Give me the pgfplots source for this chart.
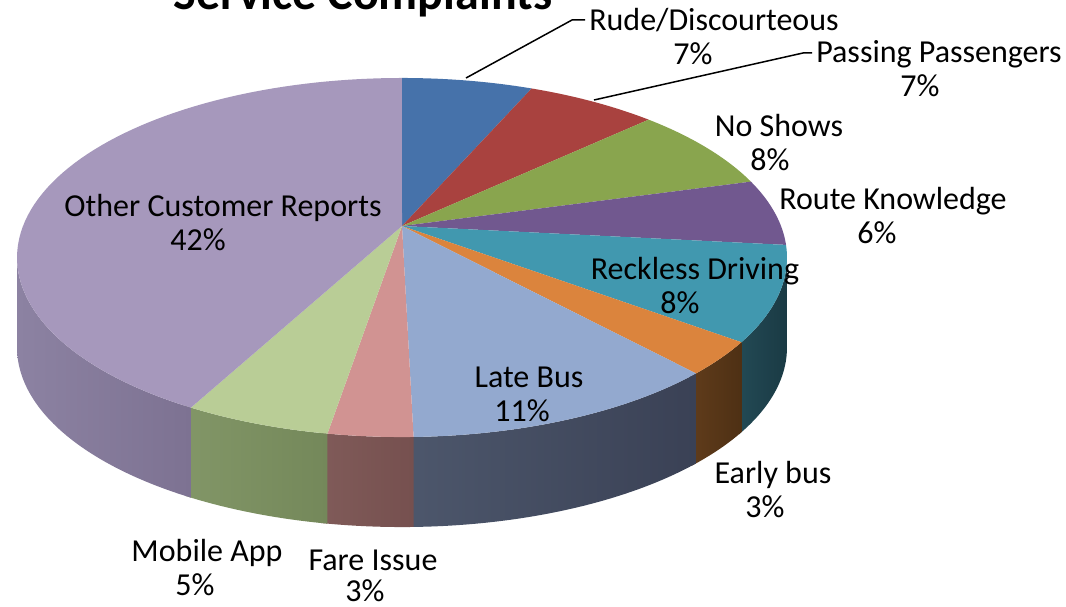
\documentclass[border=0pt]{standalone}
\usepackage{pgfplots}
\pgfplotsset{compat=1.18}
\usepackage{fontspec}
\setmainfont{Carlito}
\definecolor{cRude}{HTML}{4672AA}
\definecolor{cPass}{HTML}{A9423F}
\definecolor{cNoShow}{HTML}{89A54E}
\definecolor{cRoute}{HTML}{71588F}
\definecolor{cReck}{HTML}{4198AF}
\definecolor{cEarly}{HTML}{DB843D}
\definecolor{cLate}{HTML}{93A9CF}
\definecolor{cFare}{HTML}{D19392}
\definecolor{cMobile}{HTML}{B9CD96}
\definecolor{cOther}{HTML}{A698BC}
% side colours (left, right)
\definecolor{sReckL}{HTML}{234A55}\definecolor{sReckR}{HTML}{1A3A44}
\definecolor{sEarlyL}{HTML}{603C1B}\definecolor{sEarlyR}{HTML}{4E3014}
\definecolor{sLateL}{HTML}{4D576C}\definecolor{sLateR}{HTML}{3A4155}
\definecolor{sFareL}{HTML}{805B59}\definecolor{sFareR}{HTML}{76504F}
\definecolor{sMobileL}{HTML}{829667}\definecolor{sMobileR}{HTML}{74885A}
\definecolor{sOtherL}{HTML}{8C82A2}\definecolor{sOtherR}{HTML}{7D7292}
% top face of one slice: start %, end %, colour
\newcommand{\topslice}[3]{%
  \pgfmathsetmacro{\sA}{3.6*#1}\pgfmathsetmacro{\sB}{3.6*#2}%
  \addplot[fill=#3, draw=none, domain=\sA:\sB, samples=80, variable=\t]
    ({px(\t)},{py(\t)}) -- (axis cs:402,226) -- cycle;}
% visible side of one slice: start %, end %, left colour, right colour
\newcommand{\sideslice}[4]{%
  \pgfmathsetmacro{\sA}{3.6*#1}\pgfmathsetmacro{\sB}{3.6*#2}%
  \pgfmathsetmacro{\sC}{2*\sB-\sA}%
  \addplot[draw=none, left color=#3, right color=#4, domain=\sA:\sC, samples=161, variable=\t]
    ({px(\t+(\t>\sB)*(2*\sB-2*\t))},{py(\t+(\t>\sB)*(2*\sB-2*\t))+90*(\t>\sB)}) -- cycle;}
\newcommand{\lab}[6]{%
  \node[anchor=base, inner sep=0pt, font=\fontsize{32}{36}\selectfont] at (axis cs:#1,#2) {#3};
  \node[anchor=base, inner sep=0pt, font=\fontsize{32}{36}\selectfont] at (axis cs:#4,#5) {#6};}
\begin{document}
\begin{tikzpicture}
\begin{axis}[
  x=1pt, y=1pt, xmin=0, xmax=1066, ymin=0, ymax=607, y dir=reverse,
  axis lines=none, clip=false,
  declare function={px(\a)=402+379*sin(\a)/(1+0.1755*cos(\a));
                    py(\a)=226-174*cos(\a)/(1+0.1755*cos(\a));},
]
\coordinate (ll) at (axis cs:0,607);
\coordinate (ur) at (axis cs:1066,0);
% sides (visible from 27.8% to 72.2%); each overlaps the next a little
\sideslice{27.8}{35.5}{sReckL}{sReckR}
\sideslice{35.2}{38.5}{sEarlyL}{sEarlyR}
\sideslice{38.2}{49.9}{sLateL}{sLateR}
\sideslice{49.6}{52.9}{sFareL}{sFareR}
\sideslice{52.6}{58.1}{sMobileL}{sMobileR}
\sideslice{57.8}{72.2}{sOtherL}{sOtherR}
% tops
\topslice{0}{6.5}{cRude}
\topslice{6.5}{13.0}{cPass}
\topslice{13.0}{20.7}{cNoShow}
\topslice{20.7}{26.7}{cRoute}
\topslice{26.7}{35.2}{cReck}
\topslice{35.2}{38.2}{cEarly}
\topslice{38.2}{49.6}{cLate}
\topslice{49.6}{52.6}{cFare}
\topslice{52.6}{57.8}{cMobile}
\topslice{57.8}{100}{cOther}
% leader lines
\addplot[black, line width=1.5pt] coordinates {(466,78) (572,20) (585,20)};
\addplot[black, line width=1.5pt] coordinates {(594,100) (803,53) (812,53)};
% labels
\lab{714}{31}{Rude/Discourteous}{693}{65}{7\%}
\lab{939}{63}{Passing Passengers}{920}{97}{7\%}
\lab{779}{137}{No Shows}{770}{171}{8\%}
\lab{893}{209}{Route Knowledge}{877}{243}{6\%}
\lab{695}{279}{Reckless Driving}{680}{313}{8\%}
\lab{773}{483}{Early bus}{765}{517}{3\%}
\lab{529}{387}{Late Bus}{522}{421}{11\%}
\lab{373}{570}{Fare Issue}{365}{601}{3\%}
\lab{207}{561}{Mobile App}{195}{595}{5\%}
\lab{223}{216}{Other Customer Reports}{198}{250}{42\%}
\node[anchor=base, inner sep=0pt, font=\fontsize{48}{52}\selectfont\bfseries] at (axis cs:363,10) {Service Complaints};
\end{axis}
\pgfresetboundingbox
\useasboundingbox (ll) rectangle (ur);
\end{tikzpicture}
\end{document}
